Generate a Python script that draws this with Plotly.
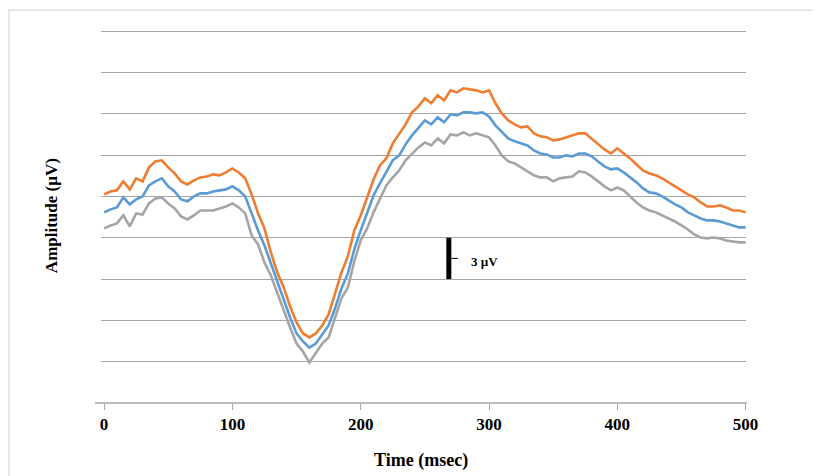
import plotly.graph_objects as go

# Time axis (ms), sampled every 5 ms
time_ms = list(range(0, 505, 5))

# Amplitude values (µV)
orange_uv = [3.15, 3.36, 3.44, 4.09, 3.51, 4.31, 4.09, 5.11, 5.54, 5.62,
             5.11, 4.67, 4.09, 3.87, 4.16, 4.38, 4.45, 4.60, 4.53, 4.74,
             5.03, 4.74, 4.31, 3.15, 1.77, 0.68, -1.07, -2.52, -3.61, -4.99,
             -6.15, -6.95, -7.24, -6.95, -6.37, -5.57, -4.05, -2.52, -1.36, 0.53,
             1.62, 2.85, 4.23, 5.25, 5.76, 6.85, 7.58, 8.23, 9.10, 9.54,
             10.12, 9.76, 10.34, 9.97, 10.70, 10.55, 10.85, 10.77, 10.70, 10.55,
             10.70, 9.76, 9.03, 8.52, 8.23, 8.01, 8.08, 7.58, 7.36, 7.29,
             7.07, 7.14, 7.29, 7.43, 7.58, 7.58, 7.21, 6.78, 6.41, 6.12,
             6.49, 6.12, 5.76, 5.32, 4.89, 4.67, 4.53, 4.31, 4.02, 3.73,
             3.44, 3.15, 2.93, 2.56, 2.27, 2.27, 2.35, 2.20, 1.98, 1.98,
             1.84]

blue_uv = [1.84, 2.06, 2.20, 2.93, 2.42, 2.78, 3.00, 3.80, 4.09, 4.31,
           3.73, 3.36, 2.78, 2.64, 3.00, 3.22, 3.22, 3.36, 3.44, 3.51,
           3.73, 3.44, 3.00, 1.69, 0.53, -0.56, -1.87, -3.32, -4.63, -5.79,
           -6.95, -7.53, -7.97, -7.68, -7.02, -6.37, -5.14, -3.68, -2.59, -0.85,
           0.53, 1.77, 3.07, 3.94, 4.74, 5.62, 5.98, 6.78, 7.43, 8.01,
           8.52, 8.23, 8.74, 8.38, 8.96, 8.88, 9.10, 9.10, 9.03, 9.10,
           8.81, 8.16, 7.72, 7.21, 7.00, 6.85, 6.70, 6.34, 6.12, 6.05,
           5.83, 5.83, 5.98, 5.91, 6.12, 6.12, 5.91, 5.54, 5.18, 4.96,
           5.03, 4.74, 4.38, 4.02, 3.58, 3.29, 3.22, 3.00, 2.71, 2.42,
           2.20, 1.84, 1.62, 1.40, 1.26, 1.26, 1.18, 1.04, 0.89, 0.75,
           0.75]

gray_uv = [0.68, 0.89, 1.04, 1.62, 0.82, 1.77, 1.69, 2.49, 2.85, 2.93,
           2.49, 2.13, 1.55, 1.33, 1.62, 1.98, 1.98, 1.98, 2.13, 2.27,
           2.49, 2.20, 1.77, 0.17, -0.49, -1.79, -2.74, -4.05, -5.28, -6.52,
           -7.68, -8.26, -9.06, -8.33, -7.68, -7.24, -5.86, -4.41, -3.61, -1.72,
           -0.20, 0.68, 1.84, 2.85, 3.80, 4.38, 4.89, 5.62, 6.12, 6.56,
           6.92, 6.70, 7.21, 6.85, 7.50, 7.43, 7.65, 7.43, 7.58, 7.43,
           7.29, 6.70, 5.98, 5.54, 5.40, 5.11, 4.82, 4.53, 4.38, 4.38,
           4.09, 4.31, 4.38, 4.45, 4.82, 4.74, 4.45, 4.09, 3.73, 3.44,
           3.65, 3.44, 3.00, 2.56, 2.20, 1.98, 1.84, 1.62, 1.40, 1.18,
           0.89, 0.60, 0.24, 0.02, -0.05, 0.02, -0.05, -0.20, -0.27, -0.34,
           -0.34]

x_ticks = [0, 100, 200, 300, 400, 500]
x_ticklabels = ["0", "100", "200", "300", "400", "500"]

scale_bar_time = 268.7
scale_bar_uv = [-3, 0]
scale_label = "3 µV"

serif = "Liberation Serif, Times New Roman, serif"

fig = go.Figure()
fig.add_trace(go.Scatter(x=time_ms, y=gray_uv, mode="lines",
                         line=dict(color="#A5A5A5", width=2.6), showlegend=False))
fig.add_trace(go.Scatter(x=time_ms, y=blue_uv, mode="lines",
                         line=dict(color="#5B9BD5", width=2.6), showlegend=False))
fig.add_trace(go.Scatter(x=time_ms, y=orange_uv, mode="lines",
                         line=dict(color="#ED7D31", width=2.6), showlegend=False))

# scale bar
fig.add_shape(type="line", xref="x", yref="y",
              x0=scale_bar_time, x1=scale_bar_time,
              y0=scale_bar_uv[0], y1=scale_bar_uv[1],
              line=dict(color="black", width=5))
fig.add_shape(type="line", xref="x", yref="y",
              x0=scale_bar_time + 2, x1=scale_bar_time + 7,
              y0=(scale_bar_uv[0] + scale_bar_uv[1]) / 2,
              y1=(scale_bar_uv[0] + scale_bar_uv[1]) / 2,
              line=dict(color="black", width=1))
fig.add_annotation(x=scale_bar_time + 16, y=-1.73, xref="x", yref="y",
                   text=scale_label, showarrow=False, xanchor="left", yanchor="middle",
                   font=dict(family=serif, size=13, color="black", weight="bold"))

# x axis line (extends slightly left of plot area)
fig.add_shape(type="line", xref="paper", yref="paper",
              x0=-0.0093, x1=1.0016, y0=0, y1=0,
              line=dict(color="#A6A6A6", width=1.3))

# outer border
fig.add_shape(type="rect", xref="paper", yref="paper",
              x0=-0.1426, x1=1.25, y0=-0.3, y1=1.045,
              line=dict(color="#D9D9D9", width=1.2), fillcolor="rgba(0,0,0,0)",
              layer="below")

# axis titles
fig.add_annotation(x=-0.0775, y=0.497, xref="paper", yref="paper",
                   text="Amplitude (µV)", showarrow=False, textangle=-90,
                   xanchor="center", yanchor="middle",
                   font=dict(family=serif, size=17, color="black", weight="bold"))
fig.add_annotation(x=0.496, y=-0.154, xref="paper", yref="paper",
                   text="Time (msec)", showarrow=False,
                   xanchor="center", yanchor="middle",
                   font=dict(family=serif, size=18, color="black", weight="bold"))

fig.update_layout(
    width=813, height=468,
    margin=dict(l=93, r=75, t=19, b=73),
    paper_bgcolor="white", plot_bgcolor="white",
    xaxis=dict(range=[-2.4, 500.3], tickvals=x_ticks, ticktext=x_ticklabels,
               showgrid=False, zeroline=False, showline=False,
               ticks="outside", ticklen=6, tickcolor="#A6A6A6", tickwidth=1,
               tickfont=dict(family=serif, size=17, color="black", weight="bold")),
    yaxis=dict(range=[-12, 15.3], dtick=3, tick0=0, showgrid=True,
               gridcolor="#A6A6A6", gridwidth=1.3, zeroline=False,
               showticklabels=False, showline=False, ticks=""),
)

fig.write_html("out.html")
